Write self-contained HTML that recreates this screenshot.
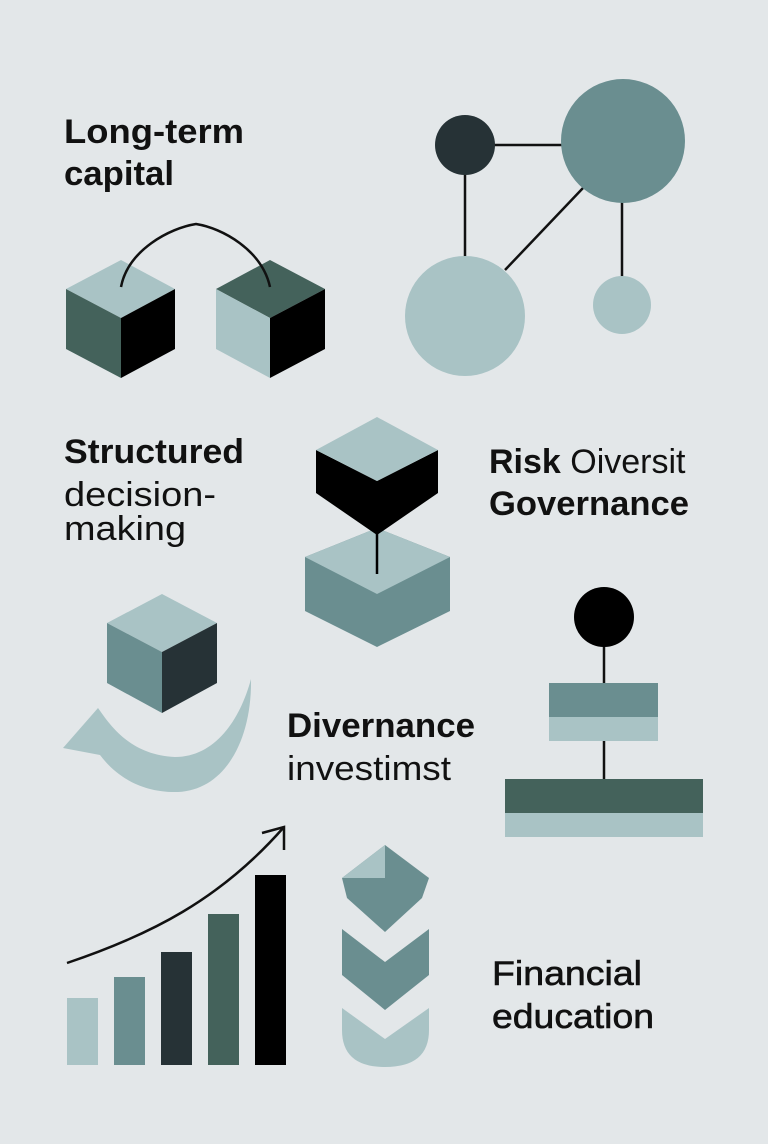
<!DOCTYPE html>
<html><head><meta charset="utf-8"><style>
html,body{margin:0;padding:0;background:#e3e7e9;}
svg{display:block;}
text{font-family:"Liberation Sans",sans-serif;fill:#111;}
.b{font-weight:bold;}
</style></head><body>
<svg width="768" height="1144" viewBox="0 0 768 1144" xmlns="http://www.w3.org/2000/svg">
<rect width="768" height="1144" fill="#e3e7e9"/>

<!-- Long-term capital -->
<text x="64" y="143" font-size="34" class="b" textLength="180" lengthAdjust="spacingAndGlyphs">Long-term</text>
<text x="64" y="185" font-size="34" class="b" textLength="110" lengthAdjust="spacingAndGlyphs">capital</text>

<!-- cube 1 -->
<polygon points="121,260 175,289 121,318 66,289" fill="#a9c3c5"/>
<polygon points="66,289 121,318 121,378 66,349" fill="#44625b"/>
<polygon points="175,289 121,318 121,378 175,349" fill="#000"/>
<!-- cube 2 -->
<polygon points="270,260 325,289 270,318 216,289" fill="#44625b"/>
<polygon points="216,289 270,318 270,378 216,349" fill="#a9c3c5"/>
<polygon points="325,289 270,318 270,378 325,349" fill="#000"/>
<!-- arc -->
<path d="M121,287 C128,250 170,228 196,224 C222,228 262,250 270,287" fill="none" stroke="#111" stroke-width="2.5"/>

<!-- network -->
<line x1="465" y1="145" x2="600" y2="145" stroke="#111" stroke-width="2.5"/>
<line x1="465" y1="150" x2="465" y2="262" stroke="#111" stroke-width="2.5"/>
<line x1="583" y1="188" x2="505" y2="270" stroke="#111" stroke-width="2.5"/>
<line x1="622" y1="195" x2="622" y2="278" stroke="#111" stroke-width="2.5"/>
<circle cx="465" cy="145" r="30" fill="#263236"/>
<circle cx="623" cy="141" r="62" fill="#6a8e90"/>
<circle cx="465" cy="316" r="60" fill="#a9c3c5"/>
<circle cx="622" cy="305" r="29" fill="#a9c3c5"/>

<!-- Structured decision-making -->
<text x="64" y="463" font-size="34" class="b" textLength="180" lengthAdjust="spacingAndGlyphs">Structured</text>
<text x="64" y="506" font-size="34" textLength="152" lengthAdjust="spacingAndGlyphs">decision-</text>
<text x="64" y="540" font-size="34" textLength="122" lengthAdjust="spacingAndGlyphs">making</text>

<!-- stacked cubes center -->
<polygon points="377,528 450,557 450,611 377,647 305,611 305,557" fill="#6a8e90"/>
<polygon points="377,528 450,557 377,594 305,557" fill="#a9c3c5"/>
<polygon points="316,450 377,481 438,450 438,493 377,535 316,493" fill="#000"/>
<polygon points="377,417 438,450 377,481 316,450" fill="#a9c3c5"/>
<line x1="377" y1="533" x2="377" y2="574" stroke="#000" stroke-width="2.5"/>

<!-- Risk Governance -->
<text x="489" y="473" font-size="34"><tspan class="b">Risk</tspan> Oiversit</text>
<text x="489" y="515" font-size="34" class="b" textLength="200" lengthAdjust="spacingAndGlyphs">Governance</text>

<!-- small cube + swoosh -->
<path d="M251,679 C252,740 225,790 178,792 C140,793 115,775 100,755 L63,748 L98,708 C110,725 130,755 175,757 C215,757 240,720 251,679 Z" fill="#a9c3c5"/>
<polygon points="162,594 217,623 162,652 107,623" fill="#a9c3c5"/>
<polygon points="107,623 162,652 162,713 107,683" fill="#6a8e90"/>
<polygon points="217,623 162,652 162,713 217,683" fill="#263236"/>

<!-- Divernance -->
<text x="287" y="737" font-size="34" class="b" textLength="188" lengthAdjust="spacingAndGlyphs">Divernance</text>
<text x="287" y="780" font-size="34" textLength="164" lengthAdjust="spacingAndGlyphs">investimst</text>

<!-- right hierarchy -->
<line x1="604" y1="640" x2="604" y2="683" stroke="#111" stroke-width="2.5"/>
<line x1="604" y1="740" x2="604" y2="780" stroke="#111" stroke-width="2.5"/>
<circle cx="604" cy="617" r="30" fill="#000"/>
<rect x="549" y="683" width="109" height="34" fill="#6a8e90"/>
<rect x="549" y="717" width="109" height="24" fill="#a9c3c5"/>
<rect x="505" y="779" width="198" height="34" fill="#44625b"/>
<rect x="505" y="813" width="198" height="24" fill="#a9c3c5"/>

<!-- bars -->
<rect x="67" y="998" width="31" height="67" fill="#a9c3c5"/>
<rect x="114" y="977" width="31" height="88" fill="#6a8e90"/>
<rect x="161" y="952" width="31" height="113" fill="#263236"/>
<rect x="208" y="914" width="31" height="151" fill="#44625b"/>
<rect x="255" y="875" width="31" height="190" fill="#000"/>
<path d="M67,963 C150,935 220,900 284,827" fill="none" stroke="#111" stroke-width="2.5"/>
<polyline points="262,833 284,827 284,850" fill="none" stroke="#111" stroke-width="2.5"/>

<!-- chevrons -->
<polygon points="385,845 429,878 422,898 385,932 347,898 342,878" fill="#6a8e90"/>
<polygon points="385,845 342,878 385,878" fill="#a9c3c5"/>
<polygon points="342,929 385,962 429,929 429,975 385,1010 342,975" fill="#6a8e90"/>
<path d="M342,1008 L385,1039 L429,1008 L429,1030 Q429,1067 385,1067 Q342,1067 342,1030 Z" fill="#a9c3c5"/>

<!-- Financial education -->
<text x="492" y="985" font-size="34" textLength="150" lengthAdjust="spacingAndGlyphs" stroke="#111" stroke-width="0.6">Financial</text>
<text x="492" y="1028" font-size="34" textLength="162" lengthAdjust="spacingAndGlyphs" stroke="#111" stroke-width="0.6">education</text>
</svg>
</body></html>
